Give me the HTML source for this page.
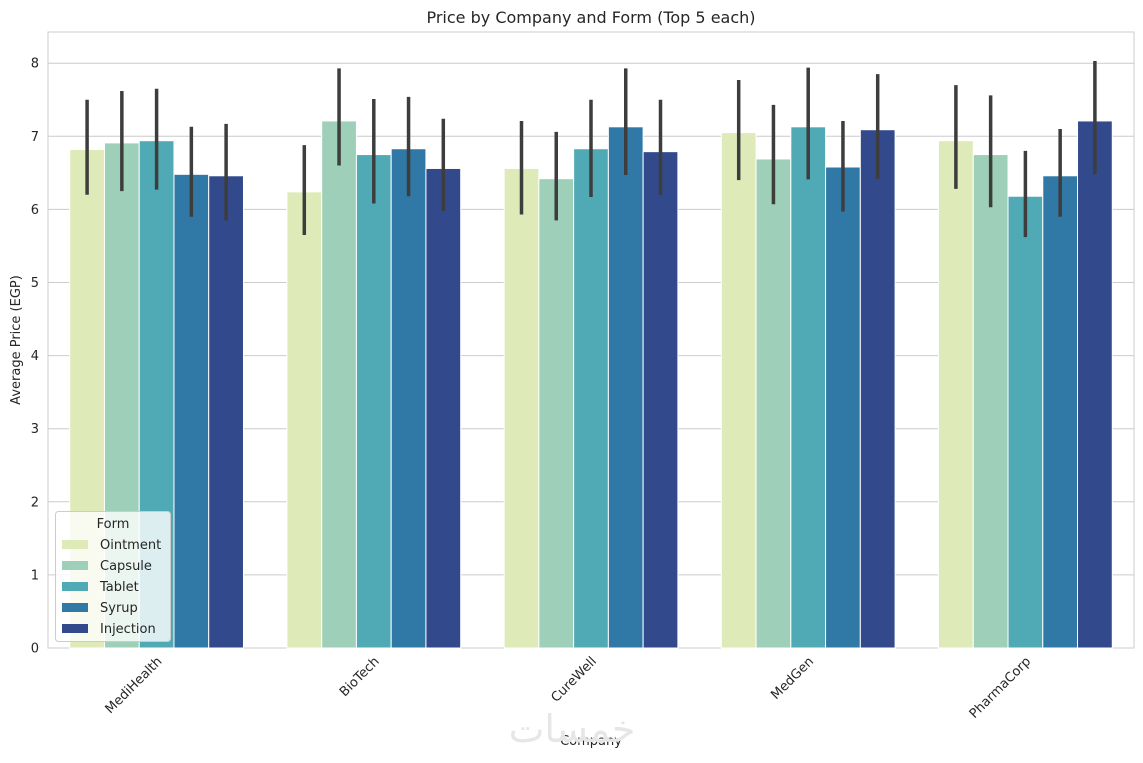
<!DOCTYPE html>
<html><head><meta charset="utf-8"><style>
body{margin:0;background:#fff;font-family:"Liberation Sans","DejaVu Sans",sans-serif;}
svg text{font-family:"DejaVu Sans","Liberation Sans",sans-serif;fill:#262626;}
</style></head><body>
<svg id="c" width="1143" height="758" xmlns="http://www.w3.org/2000/svg"></svg>
<script>
const companies=["MediHealth","BioTech","CureWell","MedGen","PharmaCorp"];
const forms=["Ointment","Capsule","Tablet","Syrup","Injection"];
const colors=["#deebb8","#9ecfb8","#50aab5","#3079a6","#324a8c"];
const ointment=[6.82,6.24,6.56,7.05,6.94];
const capsule=[6.91,7.21,6.42,6.69,6.75];
const tablet=[6.94,6.75,6.83,7.13,6.18];
const syrup=[6.48,6.83,7.13,6.58,6.46];
const injection=[6.46,6.56,6.79,7.09,7.21];
const lowOintment=[6.2,5.65,5.93,6.4,6.28], highOintment=[7.5,6.88,7.21,7.77,7.7];
const lowCapsule=[6.25,6.6,5.85,6.07,6.03], highCapsule=[7.62,7.93,7.06,7.43,7.56];
const lowTablet=[6.27,6.08,6.17,6.41,5.62], highTablet=[7.65,7.51,7.5,7.94,6.8];
const lowSyrup=[5.9,6.18,6.47,5.97,5.9], highSyrup=[7.13,7.54,7.93,7.21,7.1];
const lowInjection=[5.85,5.98,6.2,6.42,6.48], highInjection=[7.17,7.24,7.5,7.85,8.03];
const yTicks=[0,1,2,3,4,5,6,7,8];
const series=[ointment,capsule,tablet,syrup,injection];
const lows=[lowOintment,lowCapsule,lowTablet,lowSyrup,lowInjection];
const highs=[highOintment,highCapsule,highTablet,highSyrup,highInjection];

const L=48,R=1134,T=32,B=648;
const y=v=>B-v*73.1;
const catW=(R-L)/companies.length;
const xc=i=>L+catW*(i+0.5);
const bw=catW*0.8/forms.length;
const svg=document.getElementById('c');
const NS="http://www.w3.org/2000/svg";
function mk(tag,attrs,txt){const e=document.createElementNS(NS,tag);for(const k in attrs)e.setAttribute(k,attrs[k]);if(txt!=null)e.textContent=txt;svg.appendChild(e);return e;}

let e=mk('rect',{x:L,y:T,width:R-L,height:B-T,fill:'#fff',stroke:'#cccccc','stroke-width':1});


yTicks.forEach(t=>{
  let g=mk('line',{x1:L,x2:R,y1:y(t),y2:y(t),stroke:'#cccccc','stroke-width':1});
  
  
  let tl=mk('text',{x:L-9,y:y(t)+4.5,'text-anchor':'end','font-size':13},String(t));
  
  
});
companies.forEach((c,i)=>{
  series.forEach((s,j)=>{
    const x0=xc(i)-catW*0.4+j*bw;
    let r=mk('rect',{x:x0,y:y(s[i]),width:bw,height:B-y(s[i]),fill:colors[j],stroke:'#fff','stroke-width':1});
    
    
  });
});
companies.forEach((c,i)=>{
  series.forEach((s,j)=>{
    const xm=xc(i)-catW*0.4+(j+0.5)*bw;
    let l=mk('line',{x1:xm,x2:xm,y1:y(lows[j][i]),y2:y(highs[j][i]),stroke:'#3d3d3d','stroke-width':3.5});
    
    
  });
  const tx=xc(i)+6,ty=B+14;
  let t=mk('text',{x:tx,y:ty,'text-anchor':'end','font-size':13,transform:`rotate(-45 ${tx} ${ty})`},c);
  
  
});
e=mk('text',{x:591,y:23,'text-anchor':'middle','font-size':16},'Price by Company and Form (Top 5 each)');


e=mk('text',{x:591,y:745,'text-anchor':'middle','font-size':13},'Company');


e=mk('text',{x:20,y:340,'text-anchor':'middle','font-size':13,transform:'rotate(-90 20 340)'},'Average Price (EGP)');


e=mk('text',{x:572,y:742,'text-anchor':'middle','font-size':38,style:'fill:#e6e6e6;font-family:"DejaVu Sans",sans-serif'},'خمسات');


// legend
e=mk('rect',{x:55.5,y:511.5,width:115,height:130,rx:3,fill:'#fff','fill-opacity':0.8,stroke:'#cccccc'});


e=mk('text',{x:113,y:528,'text-anchor':'middle','font-size':13},'Form');


forms.forEach((f,j)=>{
  const yy=544+j*21;
  let sw=mk('rect',{x:62,y:yy-4,width:26,height:9,fill:colors[j]});
  
  
  let lt=mk('text',{x:100,y:yy+5,'font-size':13},f);
  
  
});
</script>
</body></html>
